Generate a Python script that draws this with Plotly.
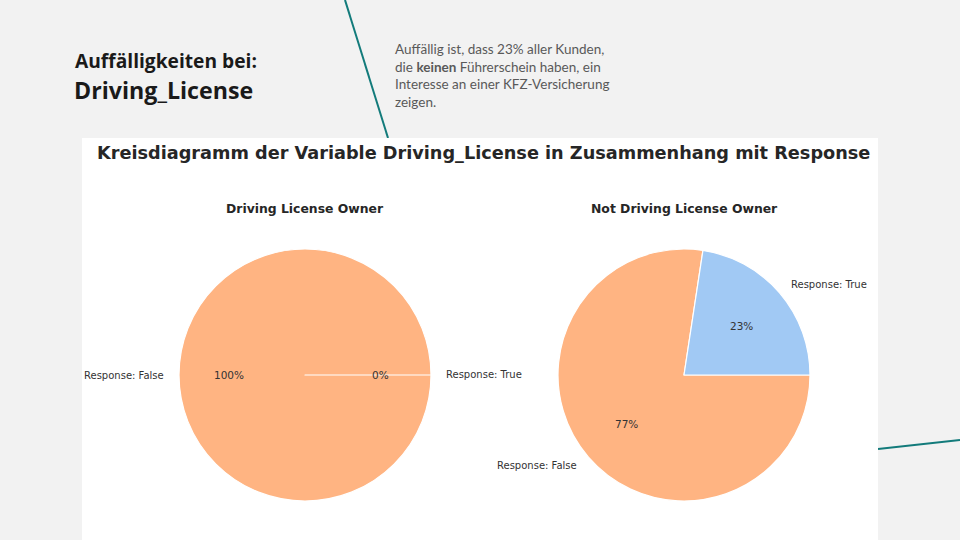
import math
import plotly.graph_objects as go

# ---- data ----
categories = ["Response: False", "Response: True"]
owner_values = [100, 0]
non_owner_values = [77.4, 22.6]
pie_titles = ["Driving License Owner", "Not Driving License Owner"]
slice_colors = ["#ffb482", "#a1c9f4"]
chart_title = "Kreisdiagramm der Variable Driving_License in Zusammenhang mit Response"

W, H = 960, 540
centers = [(305, 375), (684, 375)]
R = 126

fig = go.Figure()

annotations = []
for (cx, cy), vals, ttl in zip(centers, [owner_values, non_owner_values], pie_titles):
    fig.add_trace(go.Pie(
        labels=categories, values=vals, sort=False,
        direction="clockwise", rotation=90,
        marker=dict(colors=slice_colors, line=dict(color="white", width=1.2)),
        textinfo="none", hoverinfo="skip", showlegend=False,
        domain=dict(x=[(cx - R) / W, (cx + R) / W], y=[1 - (cy + R) / H, 1 - (cy - R) / H]),
    ))
    total = sum(vals)
    cum = 0
    for lab, v in zip(categories, vals):
        a0 = -cum / total * 360
        cum += v
        a1 = -cum / total * 360
        mid = math.radians((a0 + a1) / 2)
        c, s = math.cos(mid), math.sin(mid)
        # outer label
        lx, ly = cx + 1.1 * R * c, cy - 1.1 * R * s
        annotations.append(dict(
            x=lx / W, y=1 - ly / H, xref="paper", yref="paper", text=lab, showarrow=False,
            xanchor="left" if c > 0 else "right", yanchor="middle",
            font=dict(family="DejaVu Sans", size=10, color="#333333")))
        px, py = cx + 0.6 * R * c, cy - 0.6 * R * s
        annotations.append(dict(
            x=px / W, y=1 - py / H, xref="paper", yref="paper", text="%.0f%%" % (v / total * 100),
            showarrow=False, xanchor="center", yanchor="middle",
            font=dict(family="DejaVu Sans", size=10.5, color="#333333")))
    annotations.append(dict(
        x=cx / W, y=1 - 208 / H, xref="paper", yref="paper", text="<b>%s</b>" % ttl,
        showarrow=False, xanchor="center", yanchor="middle",
        font=dict(family="DejaVu Sans", size=12.4, color="#262626")))

annotations.append(dict(
    x=483 / W, y=1 - 153 / H, xref="paper", yref="paper", text="<b>%s</b>" % chart_title,
    showarrow=False, xanchor="center", yanchor="middle",
    font=dict(family="DejaVu Sans", size=17.7, color="#262626")))

annotations.append(dict(
    x=73 / W, y=1 - 60 / H, xref="paper", yref="paper", text="<b>Auffälligkeiten bei:</b>",
    showarrow=False, xanchor="left", yanchor="middle",
    font=dict(family="Open Sans", size=19.2, color="#1a1a1a")))
annotations.append(dict(
    x=72 / W, y=1 - 90 / H, xref="paper", yref="paper", text="<b>Driving_License</b>",
    showarrow=False, xanchor="left", yanchor="middle",
    font=dict(family="Open Sans", size=23.2, color="#1a1a1a")))
annotations.append(dict(
    x=393 / W, y=1 - 39 / H, xref="paper", yref="paper",
    text="Auffällig ist, dass 23% aller Kunden,<br>die <b>keinen</b> Führerschein haben, ein<br>"
         "Interesse an einer KFZ-Versicherung<br>zeigen.",
    showarrow=False, xanchor="left", yanchor="top", align="left",
    font=dict(family="Lato", size=13.5, color="#595959")))

shapes = [
    dict(type="line", xref="paper", yref="paper", x0=345 / W, y0=1.0, x1=388 / W, y1=1 - 138 / H,
         line=dict(color="#137b7b", width=2), layer="below"),
    dict(type="line", xref="paper", yref="paper", x0=878 / W, y0=1 - 449 / H, x1=1.0, y1=1 - 440 / H,
         line=dict(color="#137b7b", width=2), layer="below"),
    dict(type="rect", xref="paper", yref="paper", x0=82 / W, y0=0, x1=878 / W, y1=1 - 138 / H,
         fillcolor="white", line=dict(width=0), layer="below"),
]

fig.update_layout(
    width=W, height=H, margin=dict(l=0, r=0, t=0, b=0),
    paper_bgcolor="#f2f2f2", plot_bgcolor="#f2f2f2",
    annotations=annotations, shapes=shapes,
)
fig.write_html("out.html")
